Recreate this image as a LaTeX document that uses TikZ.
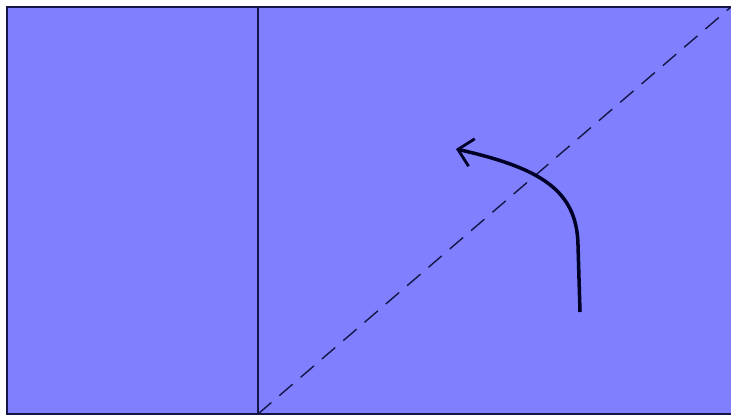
\documentclass[tikz,border=0pt]{standalone}
\usetikzlibrary{arrows.meta}
\definecolor{sheetblue}{RGB}{128,128,255}
\definecolor{inkdark}{RGB}{22,22,70}
\begin{document}
\begin{tikzpicture}[x=0.02cm, y=-0.02cm,
  edge/.style={draw=inkdark,line width=1.1pt},
  fold/.style={draw=inkdark,line width=0.8pt,dash pattern=on 10pt off 6pt},
  turn/.style={draw=black!85!blue,line width=2pt,-{Straight Barb[length=8pt,width=16pt,line width=1.6pt]}}]
\useasboundingbox (0,0) rectangle (731,418);
\coordinate (tl) at (7,7);
\coordinate (br) at (733,414);
\coordinate (creaseTop) at (258,7);
\coordinate (creaseBot) at (258,414);
\coordinate (diagEnd) at (731,7);
\coordinate (turnStart) at (580,312);
\coordinate (turnEnd) at (456,149);
\fill[sheetblue] (tl) rectangle (br);
\draw[edge] (733,7) -- (tl) -- (7,414) -- (733,414);
\draw[edge] (creaseTop) -- (creaseBot);
\draw[fold] (creaseBot) -- (diagEnd);
\draw[turn] (turnStart) -- (578,245) .. controls (577,190) and (540,168) .. (turnEnd);
\end{tikzpicture}
\end{document}
